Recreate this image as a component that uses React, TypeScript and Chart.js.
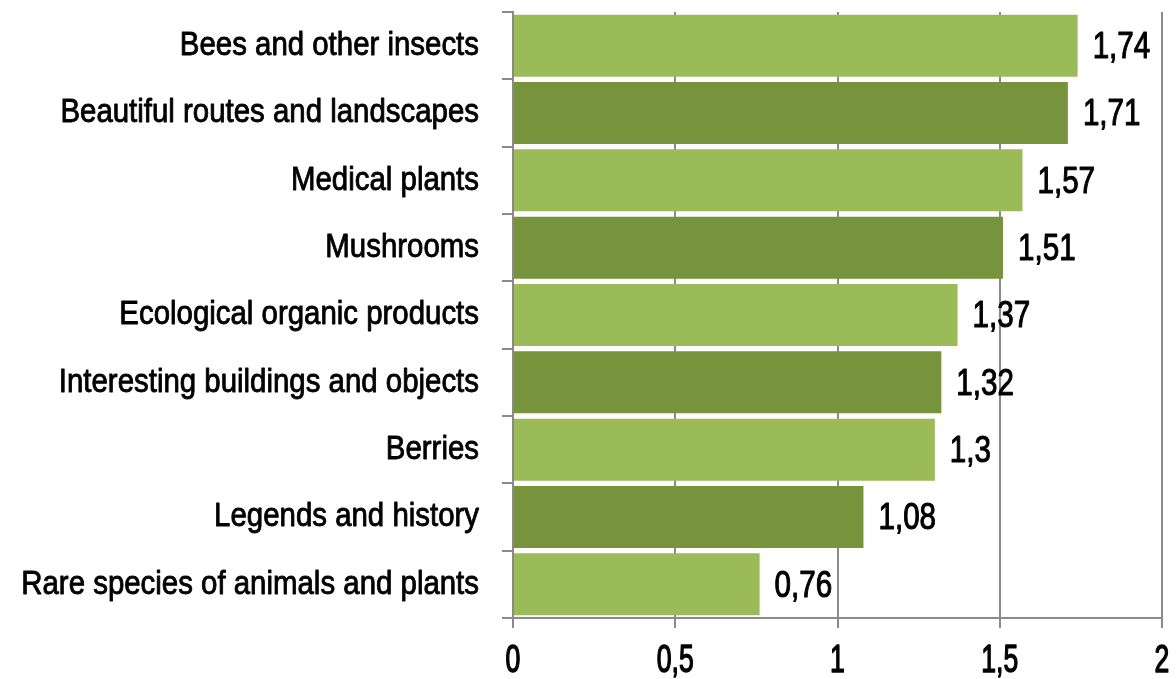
import React, { useEffect, useRef } from "react";
import { Chart, registerables } from "chart.js";

Chart.register(...registerables);

const categories = [
  "Bees and other insects",
  "Beautiful routes and landscapes",
  "Medical plants",
  "Mushrooms",
  "Ecological organic products",
  "Interesting buildings and objects",
  "Berries",
  "Legends and history",
  "Rare species of animals and plants",
];
const values = [1.74, 1.71, 1.57, 1.51, 1.37, 1.32, 1.3, 1.08, 0.76];
const barColors = ["#9BBB59", "#77933C", "#9BBB59", "#77933C", "#9BBB59", "#77933C", "#9BBB59", "#77933C", "#9BBB59"];
const xTickValues = [0, 0.5, 1, 1.5, 2];

const FONT = "'Liberation Sans', Arial, sans-serif";

const fmt = (v: number) => String(v).replace(".", ",");

function drawCondensed(ctx: any, text: string, x: number, y: number, sx: number, align: string, weight: number) {
  ctx.save();
  ctx.translate(x, y);
  ctx.scale(sx, 1);
  ctx.textAlign = align;
  ctx.fillText(text, 0, 0);
  ctx.lineWidth = weight;
  ctx.strokeStyle = "#000";
  ctx.lineJoin = "round";
  ctx.strokeText(text, 0, 0);
  ctx.restore();
}

const textPlugin = {
  id: "textPlugin",
  afterDraw(chart: any) {
    const ctx = chart.ctx;
    const meta = chart.getDatasetMeta(0);
    const xs = chart.scales.x;
    const ys = chart.scales.y;
    ctx.save();
    ctx.fillStyle = "#000";
    ctx.textBaseline = "middle";
    // value labels
    ctx.font = `37px ${FONT}`;
    meta.data.forEach((bar: any, i: number) => {
      drawCondensed(ctx, fmt(values[i]), bar.x + 15, bar.y + 2, 0.8, "left", 1.1);
    });
    // category labels
    ctx.font = `34px ${FONT}`;
    categories.forEach((c, i) => {
      drawCondensed(ctx, c, 479, ys.getPixelForValue(i), 0.865, "right", 0.9);
    });
    // x tick labels
    ctx.font = `38px ${FONT}`;
    xTickValues.forEach((v) => {
      drawCondensed(ctx, fmt(v), xs.getPixelForValue(v), 662, 0.7, "center", 1.4);
    });
    ctx.restore();
  },
};

export default function App() {
  const ref = useRef<HTMLCanvasElement>(null);
  useEffect(() => {
    document.body.style.margin = "0";
    const chart = new Chart(ref.current!, {
      type: "bar",
      data: {
        labels: categories,
        datasets: [
          {
            data: values,
            backgroundColor: barColors,
            borderWidth: 0,
            barPercentage: 0.92,
            categoryPercentage: 1,
          },
        ],
      },
      options: {
        indexAxis: "y",
        animation: false,
        responsive: false,
        maintainAspectRatio: false,
        layout: { padding: { top: 12, right: 14, left: 0, bottom: 0 } },
        plugins: { legend: { display: false }, tooltip: { enabled: false } },
        scales: {
          x: {
            min: 0,
            max: 2,
            ticks: { stepSize: 0.5, display: false },
            grid: { color: "#8A8A8A", lineWidth: 2, tickLength: 10 },
            border: { color: "#8A8A8A", width: 2 },
            afterFit: (s: any) => {
              s.height = 679 - 618;
            },
          },
          y: {
            ticks: { display: false },
            grid: { drawOnChartArea: false, color: "#8A8A8A", lineWidth: 2, tickLength: 11, offset: true },
            border: { color: "#8A8A8A", width: 2 },
            afterFit: (s: any) => {
              s.width = 513;
            },
          },
        },
      },
      plugins: [textPlugin],
    });
    return () => chart.destroy();
  }, []);
  return (
    <div style={{ width: 1176, height: 679 }}>
      <canvas ref={ref} width={1176} height={679} />
    </div>
  );
}
